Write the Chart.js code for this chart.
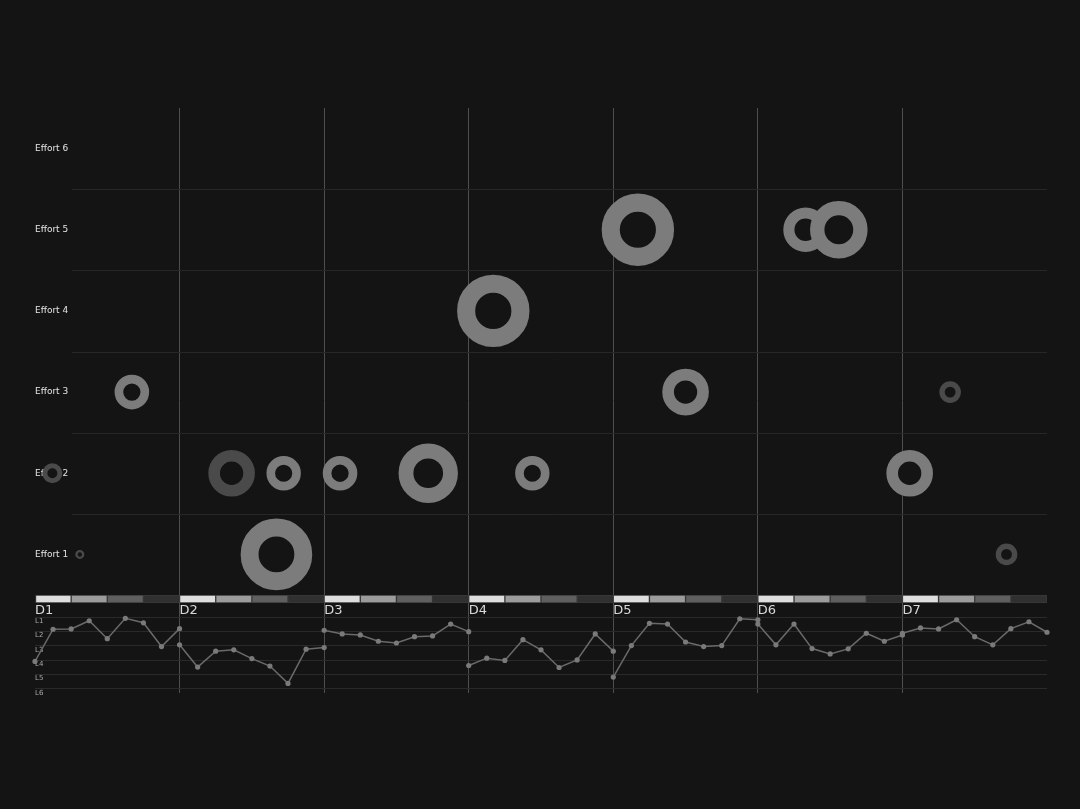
<!DOCTYPE html>
<html>
<head>
<meta charset="utf-8">
<title>Effort by day</title>
<script src="https://cdn.jsdelivr.net/npm/chart.js@4.4.1/dist/chart.umd.min.js"></script>
<style>
  html, body { margin: 0; padding: 0; background: #141414; }
  canvas { display: block; }
</style>
</head>
<body>
<canvas id="chart" width="1080" height="809"></canvas>
<script>
// days and sample times (fraction of a day)
const dayLabels = ['D1', 'D2', 'D3', 'D4', 'D5', 'D6', 'D7'];
const sampleOffsets = [0, 0.125, 0.25, 0.375, 0.5, 0.625, 0.75, 0.875, 1];

// effort rows
const effortLevels = [1, 2, 3, 4, 5, 6];
const effortLabels = ['Effort 1', 'Effort 2', 'Effort 3', 'Effort 4', 'Effort 5', 'Effort 6'];

// rings: x = day position, effort = row, size = magnitude
const brightX = [0.67, 1.72, 1.67, 2.11, 2.72, 3.17, 3.44, 4.17, 4.50, 5.33, 5.56, 6.05];
const brightEffort = [3, 2, 1, 2, 2, 4, 2, 5, 3, 5, 5, 2];
const brightSize = [17.3, 17.2, 35.8, 17.3, 29.7, 36.2, 17.2, 36.2, 23.3, 22.3, 28.8, 23.3];

const dimX = [0.12, 0.31, 1.36, 6.33, 6.72];
const dimEffort = [2, 1, 2, 3, 1];
const dimSize = [10, 4.5, 23.3, 10.8, 10.8];

// day strip phases
const phaseNames = ['Morning', 'Afternoon', 'Evening', 'Night'];
const phaseStart = [0, 0.25, 0.5, 0.75];
const phaseEnd = [0.25, 0.5, 0.75, 1];

// level track (L1 top .. L6 bottom)
const levelTicks = [1, 2, 3, 4, 5, 6];
const levelLabels = ['L1', 'L2', 'L3', 'L4', 'L5', 'L6'];
const levelsD1 = [4.08, 1.83, 1.81, 1.24, 2.49, 1.07, 1.38, 3.04, 1.79];
const levelsD2 = [2.92, 4.47, 3.36, 3.27, 3.88, 4.40, 5.61, 3.22, 3.11];
const levelsD3 = [1.90, 2.16, 2.23, 2.67, 2.79, 2.35, 2.30, 1.47, 2.00];
const levelsD4 = [4.36, 3.85, 4.01, 2.56, 3.27, 4.50, 3.97, 2.16, 3.36];
const levelsD5 = [5.17, 2.97, 1.42, 1.47, 2.72, 3.04, 2.97, 1.10, 1.17];
const levelsD6 = [1.47, 2.92, 1.47, 3.18, 3.55, 3.20, 2.11, 2.67, 2.23];
const levelsD7 = [2.11, 1.74, 1.81, 1.17, 2.35, 2.92, 1.79, 1.31, 2.04];
const dayLevels = [levelsD1, levelsD2, levelsD3, levelsD4, levelsD5, levelsD6, levelsD7];

// styles
const BG = '#141414';
const NONE = 'rgba(0,0,0,0)';
const phaseColors = ['#dedede', '#9c9c9c', '#5f5f5f', '#303030'];
const FONT = '"DejaVu Sans", sans-serif';

function ringDataset(label, xs, efforts, sizes, color) {
    return {
        type: 'bubble',
        label: label,
        xAxisID: 'x',
        yAxisID: 'yEffort',
        data: xs.map((x, i) => ({ x: x, y: efforts[i], v: sizes[i] })),
        backgroundColor: BG,
        borderColor: color,
        radius: ctx => ctx.raw ? ctx.raw.v * 0.75 : 0,
        borderWidth: ctx => ctx.raw ? ctx.raw.v * 0.5 : 0,
        hoverRadius: 0,
    };
}

const stripDatasets = phaseNames.map((name, p) => ({
    type: 'bar',
    label: name,
    indexAxis: 'y',
    xAxisID: 'x',
    yAxisID: 'yStrip',
    grouped: false,
    data: dayLabels.map((d, i) => ({ x: [i + phaseStart[p], i + phaseEnd[p]], y: 'strip' })),
    backgroundColor: phaseColors[p],
    borderColor: '#3a3a3a',
    borderWidth: 1,
    borderSkipped: false,
    barPercentage: 1,
    categoryPercentage: 1,
}));

const levelDatasets = dayLevels.map((vals, d) => ({
    type: 'line',
    label: dayLabels[d],
    xAxisID: 'x',
    yAxisID: 'yLevel',
    data: vals.map((v, k) => ({ x: d + sampleOffsets[k], y: v })),
    borderColor: '#6a6a6a',
    borderWidth: 1.5,
    pointRadius: 2.6,
    pointBackgroundColor: '#7a7a7a',
    pointBorderWidth: 0,
    tension: 0,
    clip: 5,
}));

// faint separators between effort rows, starting right of the row labels
const effortRowLines = {
    id: 'effortRowLines',
    beforeDatasetsDraw(chart) {
        const { ctx, chartArea, scales: { yEffort } } = chart;
        ctx.save();
        ctx.strokeStyle = '#272727';
        ctx.lineWidth = 1;
        effortLevels.slice(1).forEach(v => {
            const y = Math.round(yEffort.getPixelForValue(v - 0.5)) + 0.5;
            ctx.beginPath();
            ctx.moveTo(chartArea.left + 37, y);
            ctx.lineTo(chartArea.right, y);
            ctx.stroke();
        });
        ctx.restore();
    }
};

const dayLabelPlugin = {
    id: 'dayLabels',
    afterDatasetsDraw(chart) {
        const { ctx, scales: { x, yStrip } } = chart;
        ctx.save();
        ctx.fillStyle = '#d8d8d8';
        ctx.font = '13px ' + FONT;
        ctx.textBaseline = 'top';
        dayLabels.forEach((label, i) => {
            ctx.fillText(label, x.getPixelForValue(i), yStrip.bottom + 1);
        });
        ctx.restore();
    }
};

new Chart(document.getElementById('chart'), {
    type: 'bubble',
    data: {
        datasets: [
            ringDataset('Logged', brightX, brightEffort, brightSize, '#7c7c7c'),
            ringDataset('Light', dimX, dimEffort, dimSize, '#4a4a4a'),
            ...stripDatasets,
            ...levelDatasets,
        ],
    },
    options: {
        responsive: false,
        animation: false,
        events: [],
        layout: { autoPadding: false, padding: { top: 108, left: 27, right: 33, bottom: 116 } },
        plugins: {
            legend: { display: false },
            tooltip: { enabled: false },
        },
        scales: {
            x: {
                type: 'linear',
                position: 'bottom',
                min: 0,
                max: 7,
                ticks: { display: false, stepSize: 1 },
                grid: {
                    drawTicks: false,
                    color: ctx => (ctx.tick && ctx.tick.value > 0 && ctx.tick.value < 7) ? '#4e4e4e' : NONE,
                    lineWidth: 1,
                },
                border: { display: false },
            },
            yEffort: {
                type: 'linear',
                position: 'left',
                stack: 'rows',
                stackWeight: 487,
                weight: 3,
                min: 0.5,
                max: 6.5,
                afterBuildTicks: axis => { axis.ticks = effortLevels.map(v => ({ value: v })); },
                ticks: {
                    mirror: true,
                    padding: 0,
                    autoSkip: false,
                    color: '#e4e4e4',
                    font: { family: FONT, size: 9 },
                    callback: v => effortLabels[effortLevels.indexOf(v)],
                },
                grid: { display: false },
                border: { display: false },
            },
            yStrip: {
                type: 'category',
                labels: ['strip'],
                position: 'left',
                stack: 'rows',
                stackWeight: 8,
                weight: 2,
                offset: true,
                ticks: { display: false },
                grid: { display: false },
                border: { display: false },
            },
            yLevel: {
                type: 'linear',
                position: 'left',
                stack: 'rows',
                stackWeight: 90,
                weight: 1,
                reverse: true,
                min: 0,
                max: 6.28,
                afterBuildTicks: axis => { axis.ticks = levelTicks.map(v => ({ value: v })); },
                ticks: {
                    mirror: true,
                    padding: 0,
                    autoSkip: false,
                    labelOffset: 4,
                    color: '#a8a8a8',
                    font: { family: FONT, size: 7 },
                    callback: v => levelLabels[levelTicks.indexOf(v)],
                },
                grid: { drawTicks: false, color: '#2a2a2a' },
                border: { display: false },
            },
        },
    },
    plugins: [effortRowLines, dayLabelPlugin],
});
</script>
</body>
</html>
